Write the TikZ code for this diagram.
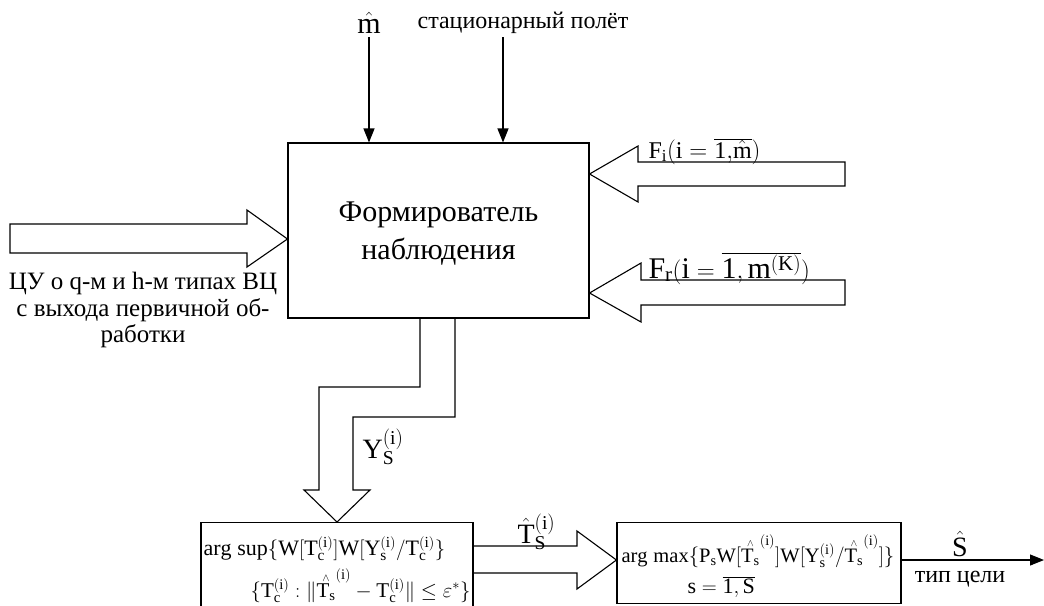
\documentclass[tikz,border=0pt]{standalone}
\usepackage{fontspec}
\setmainfont{Liberation Serif}
\usetikzlibrary{arrows.meta}
\newcommand\myTc{\mathrm{T}_{\mathrm{c}}^{(\mathrm{i})}}
\newcommand\myYs{\mathrm{Y}_{\mathrm{s}}^{(\mathrm{i})}}
\newcommand\myTh{{\stackrel{\scriptscriptstyle\wedge}{\mathrm{T}_{\mathrm{s}}}}^{(\mathrm{i})}}
\newcommand\fs[2]{\fontsize{#1}{#2}\selectfont}
\begin{document}
\begin{tikzpicture}[x=1pt,y=-1pt,line width=1.1pt,
  blk/.style={draw,line width=1.1pt,inner sep=0pt},
  lbl/.style={inner sep=0pt},
  thinarr/.style={-{Triangle[length=14pt,width=11pt]},line width=1.1pt},
  hollow/.style={draw,line width=1.1pt,line join=miter}]
\clip (0,0) rectangle (1044,605);
\fill[white] (0,0) rectangle (1044,605);

% main block
\node[blk,minimum width=301pt,minimum height=175pt] (main) at (438.5,230.5) {};
\node[lbl,anchor=north,align=center,font=\fs{30}{38}] (maintxt) at (438.5,201) {Формирователь\\наблюдения};

% top inputs
\node[lbl,font=\fs{30}{30},anchor=base] (mhat) at (369,33) {$\hat{\mathrm{m}}$};
\coordinate (m0) at (369,37);
\draw[thinarr] (m0) -- (m0 |- main.north);
\node[lbl,font=\fs{24}{24},anchor=base] (stat) at (523,28) {стационарный полёт};
\coordinate (s0) at (503,37);
\draw[thinarr] (s0) -- (s0 |- main.north);

% left hollow arrow
\coordinate (ltip) at (main.west |- 0,239);
\draw[hollow] (10,224) -- (247,224) -- (247,210) -- (ltip) -- (247,267) -- (247,253) -- (10,253) -- cycle;
\node[lbl,anchor=north,align=center,font=\fs{25}{26.5}] (ltxt) at (143,272) {ЦУ о q-м и h-м типах ВЦ\\с выхода первичной об-\\работки};

% right hollow arrows
\coordinate (fitip) at (main.east |- 0,174);
\draw[hollow] (845,162) -- (638,162) -- (638,146) -- (fitip) -- (638,202) -- (638,186) -- (845,186) -- cycle;
\node[lbl,anchor=base west,font=\fs{24}{24}] (fi) at (648,158) {$\mathrm{F_i(i}=\overline{\mathrm{1,}\hat{\mathrm{m}}}\mathrm{)}$};
\coordinate (frtip) at (main.east |- 0,293);
\draw[hollow] (845,280) -- (641,280) -- (641,263) -- (frtip) -- (641,322) -- (641,305) -- (845,305) -- cycle;
\node[lbl,anchor=base west,font=\fs{30}{30}] (fr) at (648,278) {$\mathrm{F_r(i=\overline{1,m^{(K)}})}$};

% bottom blocks
\node[blk,minimum width=272pt,minimum height=95pt,anchor=north] (est) at (337,522) {};
\node[blk,minimum width=284pt,minimum height=81pt,anchor=north] (cls) at (759,522) {};
\node[lbl,anchor=base west,font=\fs{22}{22}] (e1) at (203,555) {$\mathrm{arg}\;\mathrm{sup}\{\mathrm{W}[\myTc]\mathrm{W}[\myYs/\myTc\}$};
\node[lbl,anchor=base east,font=\fs{21}{21}] (e2) at (471,597) {$\{\myTc:\|\myTh-\myTc\|\le\varepsilon^{*}\}$};
\node[lbl,anchor=base west,font=\fs{20.5}{21}] (c1) at (621,562) {$\mathrm{arg}\;\mathrm{max}\{\mathrm{P_s}\mathrm{W}[\myTh]\mathrm{W}[\myYs/\myTh]\}$};
\node[lbl,anchor=base west,font=\fs{22}{22}] (c2) at (687,593) {$\mathrm{s}=\overline{\mathrm{1,S}}$};

% bent down arrow
\draw[hollow] (420,0 |- main.south) -- (420,387) -- (319,387) -- (319,490) -- (304,490) -- (est.north) -- (370,490) -- (353,490) -- (353,417) -- (455,417) -- (455,0 |- main.south);
\node[lbl,anchor=base west,font=\fs{28}{28}] (ys) at (362,458) {$\mathrm{Y}_{\mathrm{S}}^{(\mathrm{i})}$};

% middle arrow
\coordinate (mtip) at (cls.west |- 0,560);
\draw[hollow] (est.east |- 0,546) -- (577,546) -- (577,531) -- (mtip) -- (577,589) -- (577,573) -- (est.east |- 0,573);
\node[lbl,anchor=base west,font=\fs{28}{28}] (tl) at (517,543) {$\hat{\mathrm{T}}_{\mathrm{S}}^{(\mathrm{i})}$};

% output
\coordinate (out) at (1044,560);
\draw[thinarr] (cls.east |- out) -- (out);
\node[lbl,anchor=base,font=\fs{28}{28}] (shat) at (960,556) {$\hat{\mathrm{S}}$};
\node[lbl,anchor=base,font=\fs{24}{24}] (tc) at (960,582) {тип цели};
\end{tikzpicture}
\end{document}
